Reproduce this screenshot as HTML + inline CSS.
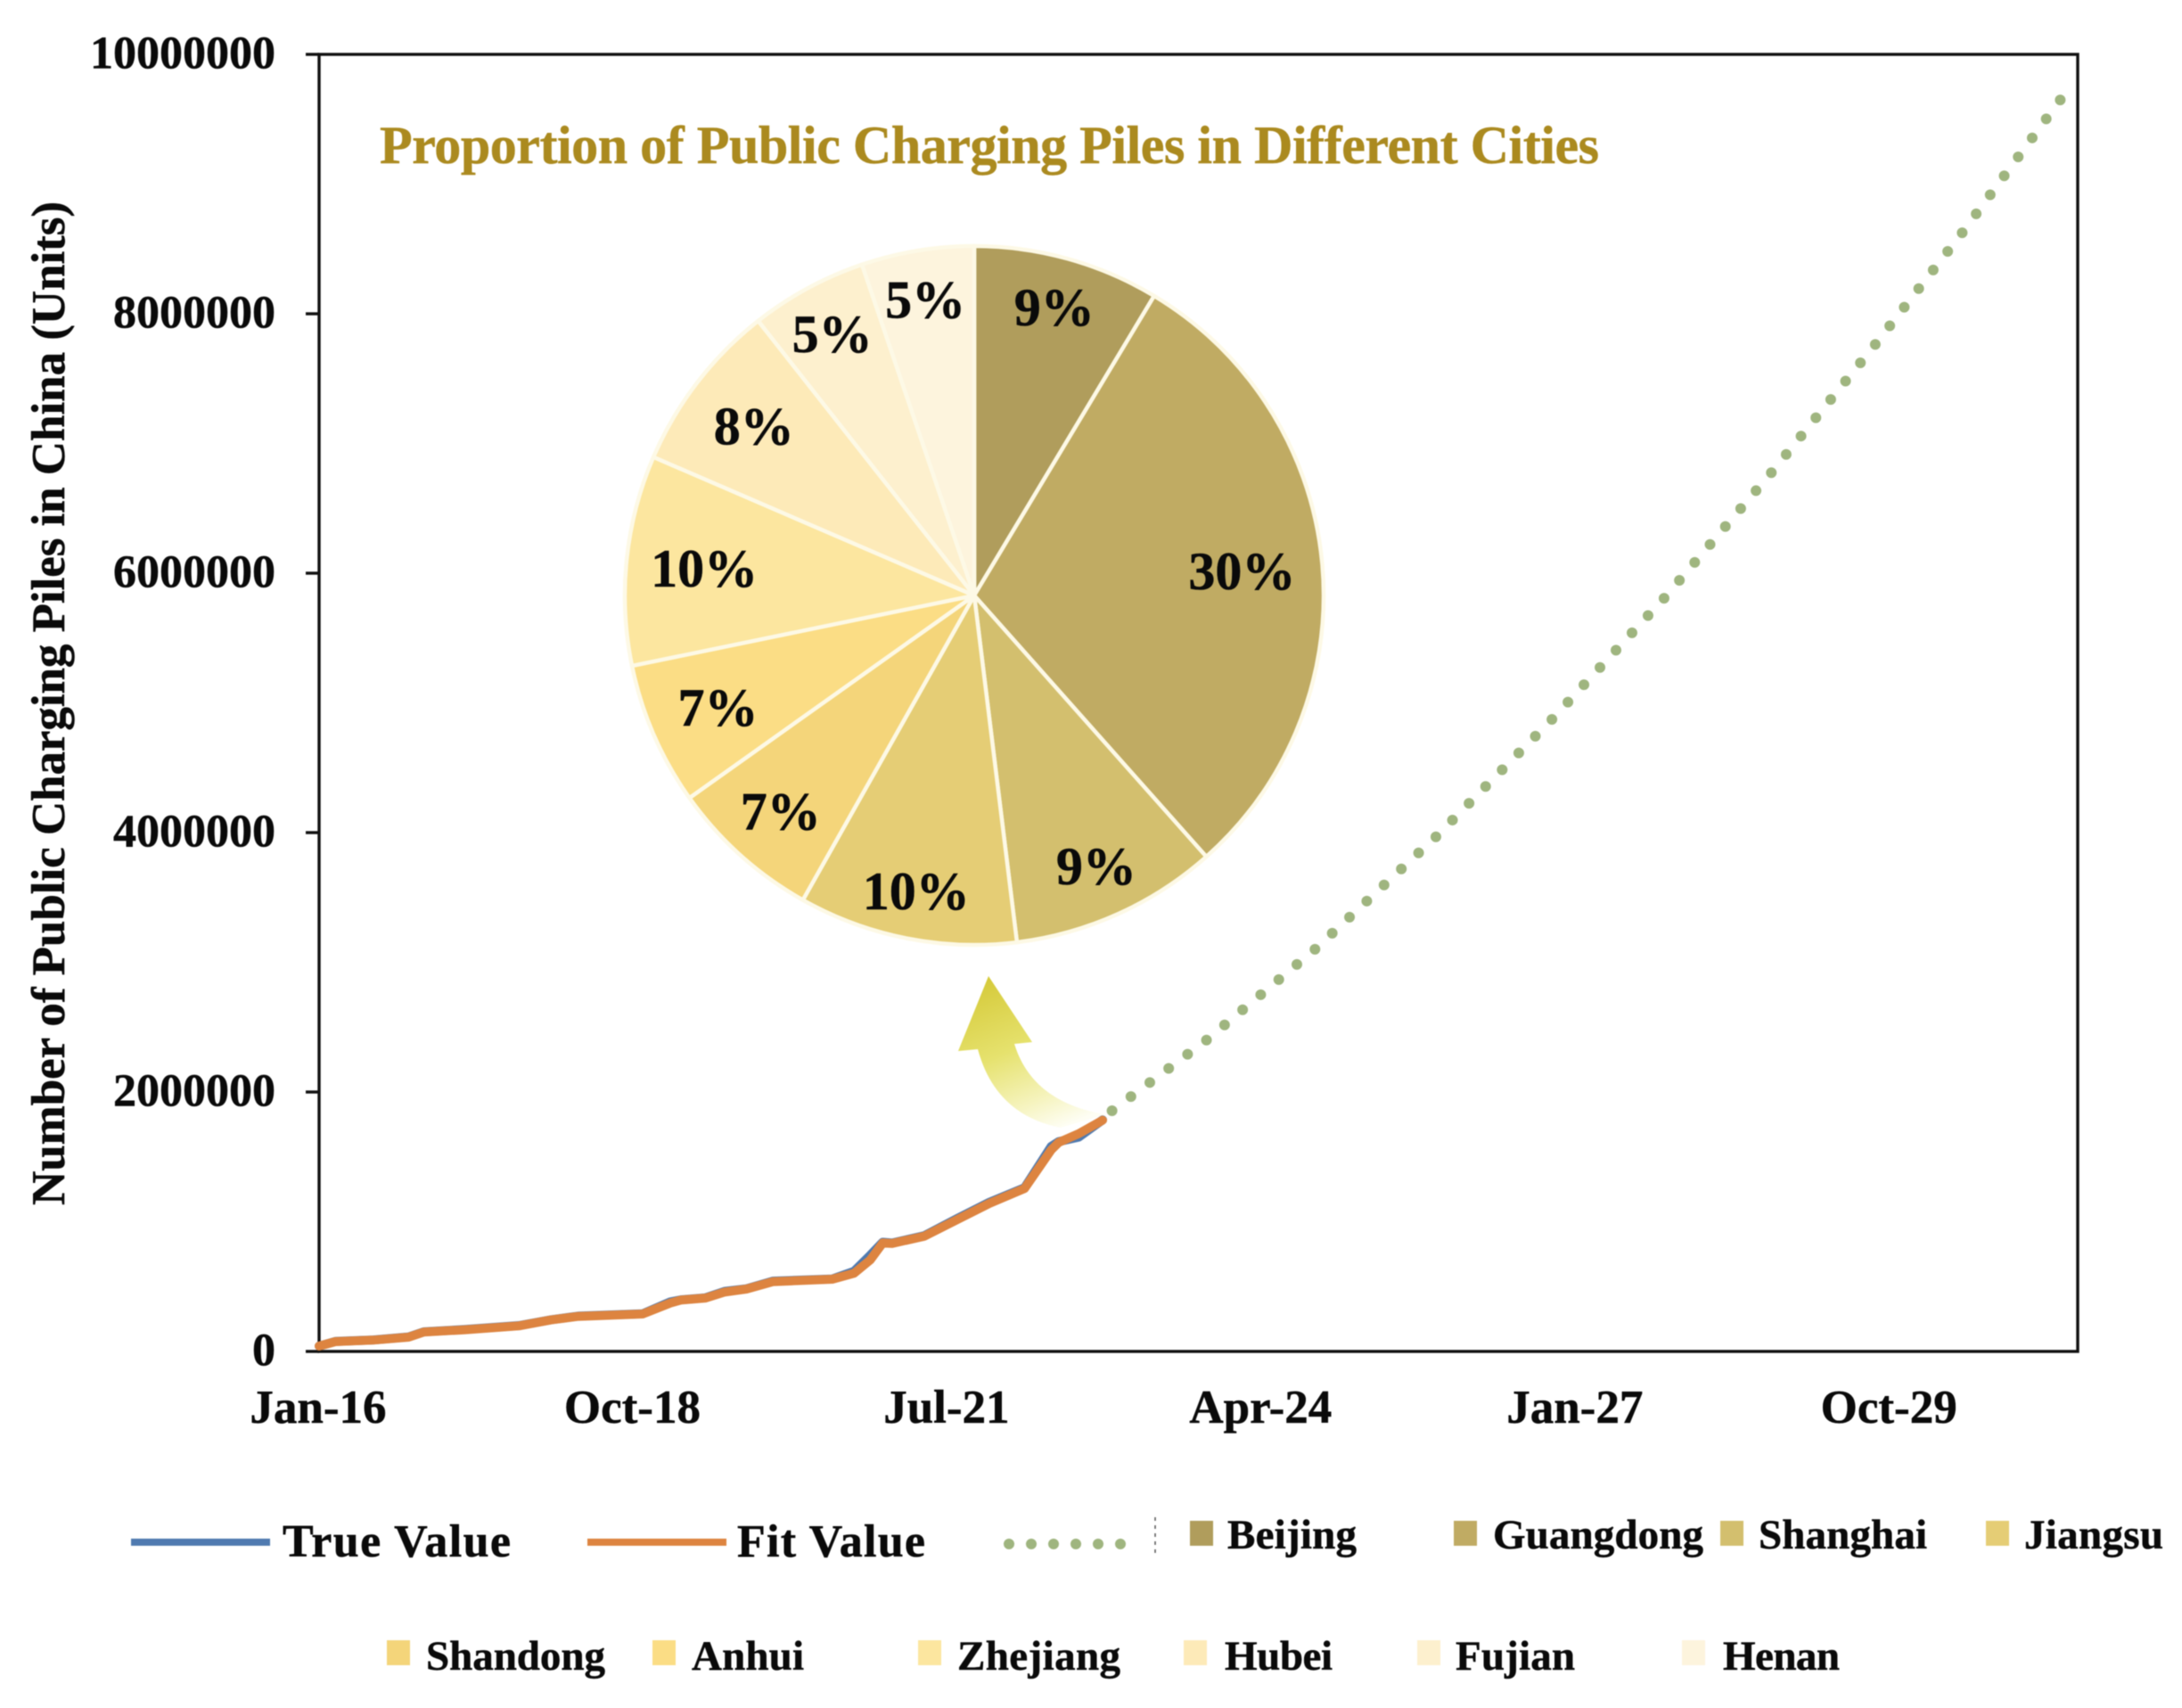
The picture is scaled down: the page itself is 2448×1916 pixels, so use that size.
<!DOCTYPE html>
<html lang="en">
<head>
<meta charset="utf-8">
<title>Number of Public Charging Piles in China</title>
<style>
html,body{margin:0;padding:0;background:#fff;}
svg{display:block;filter:blur(0.6px);}
text{font-family:"Liberation Serif",serif;font-weight:bold;fill:#0a0a0a;stroke:#0a0a0a;stroke-width:0.5px;}
</style>
</head>
<body>
<svg id="chart" xmlns="http://www.w3.org/2000/svg" width="2448" height="1916" viewBox="0 0 2448 1916">
  <defs>
    <linearGradient id="arrowGrad" gradientUnits="userSpaceOnUse" x1="1120" y1="1095" x2="1190" y2="1265">
      <stop offset="0" stop-color="#d6cb3c"/>
      <stop offset="0.45" stop-color="#e6e26e"/>
      <stop offset="0.8" stop-color="#f6f4c0"/>
      <stop offset="1" stop-color="#fefef4"/>
    </linearGradient>
  </defs>
  <rect width="2448" height="1916" fill="#ffffff"/>
  <g id="axes"></g>
  <text transform="translate(72,789) rotate(-90)" text-anchor="middle" font-size="53" textLength="1126" lengthAdjust="spacing">Number of Public Charging Piles in China (Units)</text>
  <text x="426" y="183" font-size="60" textLength="1368" lengthAdjust="spacing" style="fill:#ab8a1f;stroke:#ab8a1f">Proportion of Public Charging Piles in Different Cities</text>
  <g id="pie"></g>
  <path d="M1109,1095 L1158,1169 L1138,1171 C1150,1210 1180,1240 1240,1250 L1190,1265 C1140,1255 1110,1225 1097,1177 L1075,1179 Z" fill="url(#arrowGrad)"/>
  <g id="series"></g>

  <g font-size="47">
    <g>
      <line x1="147" y1="1730" x2="303" y2="1730" stroke="#4f7ab0" stroke-width="8"/>
      <text x="317" y="1746" font-size="52" textLength="256">True Value</text>
    </g>
    <g>
      <line x1="659" y1="1730" x2="815" y2="1730" stroke="#dd8440" stroke-width="8"/>
      <text x="827" y="1746" font-size="52" textLength="211">Fit Value</text>
    </g>
    <g>
      <line x1="1132" y1="1732" x2="1262" y2="1732" stroke="#9fb57f" stroke-width="12" stroke-linecap="round" stroke-dasharray="0 25"/>
      <line x1="1296" y1="1702" x2="1296" y2="1746" stroke="#555555" stroke-width="1.5" stroke-dasharray="4 5"/>
    </g>
    <g><rect x="1335" y="1706" width="26" height="28" fill="#b09d5c"/><text x="1377" y="1737" textLength="145">Beijing</text></g>
    <g><rect x="1631" y="1706" width="26" height="28" fill="#c0ab63"/><text x="1675" y="1737" textLength="236">Guangdong</text></g>
    <g><rect x="1930" y="1706" width="26" height="28" fill="#d3bf6e"/><text x="1973" y="1737" textLength="189">Shanghai</text></g>
    <g><rect x="2228" y="1706" width="26" height="28" fill="#e5cd75"/><text x="2271" y="1737" textLength="156">Jiangsu</text></g>
    <g><rect x="434" y="1840" width="26" height="28" fill="#f4d57a"/><text x="478" y="1873" textLength="201">Shandong</text></g>
    <g><rect x="732" y="1840" width="26" height="28" fill="#fbdd85"/><text x="776" y="1873" textLength="126">Anhui</text></g>
    <g><rect x="1030" y="1840" width="26" height="28" fill="#fce69f"/><text x="1074" y="1873" textLength="183">Zhejiang</text></g>
    <g><rect x="1328" y="1840" width="26" height="28" fill="#fdeab8"/><text x="1374" y="1873" textLength="121">Hubei</text></g>
    <g><rect x="1590" y="1840" width="26" height="28" fill="#fdf0ce"/><text x="1633" y="1873" textLength="134">Fujian</text></g>
    <g><rect x="1887" y="1840" width="26" height="28" fill="#fdf4dd"/><text x="1933" y="1873" textLength="131">Henan</text></g>
  </g>
</svg>

<script>
// ---- chart data ----
const yTickValues = [0, 2000000, 4000000, 6000000, 8000000, 10000000];
const yTickLabels = ["0", "2000000", "4000000", "6000000", "8000000", "10000000"];
const xTickMonths = [0, 33, 66, 99, 132, 165];
const xTickLabels = ["Jan-16", "Oct-18", "Jul-21", "Apr-24", "Jan-27", "Oct-29"];

// months since Jan-16, with units
const actualMonths = [0, 1.7, 5.7, 9.4, 11, 15.3, 21, 24.4, 27.2, 34, 36.9, 38, 40.6, 42.6, 44.9, 47.7, 53.9, 56.2, 57.9, 59.2, 60.2, 63.6, 67, 70.4, 74.1, 76.9, 77.7, 79.8, 82.3];
const trueValues = [41000, 77000, 89000, 112000, 151000, 169000, 199000, 245000, 272000, 291000, 382000, 398000, 414000, 463000, 483000, 542000, 559000, 618000, 742000, 842000, 836000, 893000, 1024000, 1150000, 1262000, 1580000, 1618000, 1652000, 1785000];
const fitValues = [41000, 75600, 87000, 110000, 149000, 167000, 197000, 243000, 270000, 289000, 373000, 396000, 412000, 458000, 481000, 538000, 557000, 603000, 706000, 836000, 832000, 889000, 1015000, 1141000, 1256000, 1553000, 1611000, 1679000, 1782000];

const forecastMonths = [83.3, 93.2, 104.6, 117.3, 129.5, 141.3, 152.5, 163.5, 172.6, 182.9];
const forecastValues = [1856000, 2399000, 3100000, 3966000, 4873000, 5808000, 6770000, 7766000, 8625000, 9649000];

const cityNames = ["Beijing", "Guangdong", "Shanghai", "Jiangsu", "Shandong", "Anhui", "Zhejiang", "Hubei", "Fujian", "Henan"];
const cityShares = [8.6, 29.8, 9.6, 10.1, 7.0, 6.6, 9.7, 7.9, 5.4, 5.2];
const cityLabels = ["9%", "30%", "9%", "10%", "7%", "7%", "10%", "8%", "5%", "5%"];

// ---- style / layout ----
const cityColors = ["#b09d5c", "#c0ab63", "#d3bf6e", "#e5cd75", "#f4d57a", "#fbdd85", "#fce69f", "#fdeab8", "#fdf0ce", "#fdf4dd"];
const labelInsets = [17, 30, 16, 16, 17, 27, 27, 28, 12, 20];
const PLOT = {left: 358, right: 2331, top: 61, bottom: 1516};
const PIE = {cx: 1093, cy: 668, r: 392};
const NS = "http://www.w3.org/2000/svg";

function xScale(month) { return PLOT.left + month * 10.68; }
function yScale(value) { return PLOT.bottom - (value / 10000000) * (PLOT.bottom - PLOT.top); }

function make(tag, attrs, parent, content) {
  const el = document.createElementNS(NS, tag);
  for (const k in attrs) el.setAttribute(k, attrs[k]);
  if (content !== undefined) el.textContent = content;
  parent.appendChild(el);
  return el;
}

function linePath(months, values) {
  return months.map(function (m, i) {
    return (i ? "L" : "M") + xScale(m).toFixed(1) + "," + yScale(values[i]).toFixed(1);
  }).join(" ");
}

// ---- axes ----
const axes = document.getElementById("axes");
const frame = make("rect", {x: PLOT.left, y: PLOT.top, width: PLOT.right - PLOT.left, height: PLOT.bottom - PLOT.top, fill: "none", stroke: "#111111", "stroke-width": 3.4}, axes);



yTickValues.forEach(function (v, i) {
  const tick = make("line", {x1: 343, x2: PLOT.left, y1: yScale(v), y2: yScale(v), stroke: "#111111", "stroke-width": 3.4}, axes);
  
  
  const label = make("text", {x: 309, y: yScale(v) + 15.5, "text-anchor": "end", "font-size": 52}, axes, yTickLabels[i]);
  
  
});

xTickMonths.forEach(function (m, i) {
  const label = make("text", {x: xScale(m) - 1, y: 1596, "text-anchor": "middle", "font-size": 53}, axes, xTickLabels[i]);
  
  
});

// ---- pie ----
const pie = document.getElementById("pie");
const shareTotal = cityShares.reduce(function (a, b) { return a + b; }, 0);
let cumulative = 0;
cityShares.forEach(function (share, i) {
  const a0 = cumulative / shareTotal * 2 * Math.PI;
  cumulative += share;
  const a1 = cumulative / shareTotal * 2 * Math.PI;
  const large = a1 - a0 > Math.PI ? 1 : 0;
  const x0 = PIE.cx + PIE.r * Math.sin(a0), y0 = PIE.cy - PIE.r * Math.cos(a0);
  const x1 = PIE.cx + PIE.r * Math.sin(a1), y1 = PIE.cy - PIE.r * Math.cos(a1);
  const d = "M" + PIE.cx + "," + PIE.cy + " L" + x0.toFixed(2) + "," + y0.toFixed(2) +
    " A" + PIE.r + "," + PIE.r + " 0 " + large + " 1 " + x1.toFixed(2) + "," + y1.toFixed(2) + " Z";
  const slice = make("path", {d: d, fill: cityColors[i], stroke: "#fdf9e6", "stroke-width": 4.5, "stroke-linejoin": "round"}, pie);
  
  
});

cumulative = 0;
cityShares.forEach(function (share, i) {
  const mid = (cumulative + share / 2) / shareTotal * 2 * Math.PI;
  cumulative += share;
  const hw = cityLabels[i].length > 2 ? 58 : 44, hh = 28;
  const reach = hw * Math.abs(Math.sin(mid)) + hh * Math.abs(Math.cos(mid));
  const rad = PIE.r - reach - labelInsets[i];
  const lx = PIE.cx + rad * Math.sin(mid), ly = PIE.cy - rad * Math.cos(mid);
  const label = make("text", {x: lx.toFixed(1), y: (ly + 21).toFixed(1), "text-anchor": "middle", "font-size": 60}, pie, cityLabels[i]);
  
  
});

// ---- series ----
const series = document.getElementById("series");
const forecastLine = make("path", {d: linePath(forecastMonths, forecastValues), fill: "none", stroke: "#9fb57f", "stroke-width": 12, "stroke-linecap": "round"}, series);


const forecastLength = forecastLine.getTotalLength();
forecastLine.setAttribute('stroke-dasharray', '0 ' + (forecastLength / Math.round(forecastLength / 26.6)).toFixed(3));

const trueLine = make("path", {d: linePath(actualMonths, trueValues), fill: "none", stroke: "#4f7ab0", "stroke-width": 10, "stroke-linejoin": "round", "stroke-linecap": "round"}, series);



const fitLine = make("path", {d: linePath(actualMonths, fitValues), fill: "none", stroke: "#dd8440", "stroke-width": 10, "stroke-linejoin": "round", "stroke-linecap": "round"}, series);


</script>
</body>
</html>
